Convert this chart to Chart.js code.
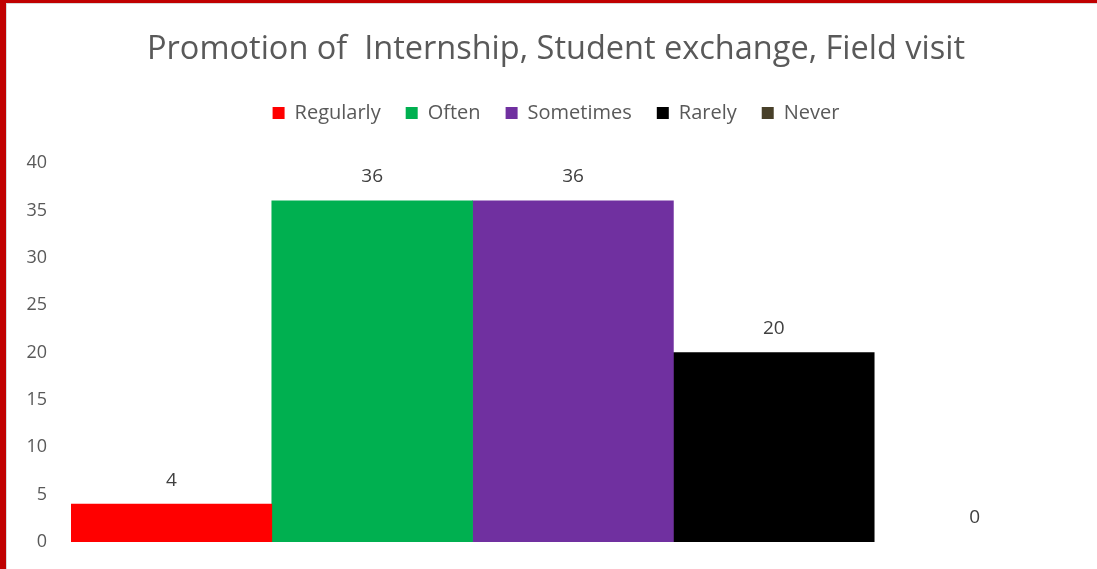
<!DOCTYPE html>
<html>
<head>
<meta charset="utf-8">
<script src="https://cdn.jsdelivr.net/npm/chart.js@4.4.0/dist/chart.umd.min.js"></script>
<style>
  html, body { margin: 0; padding: 0; background: #fff; }
  #frame {
    width: 1091px; height: 566px;
    border-left: 6px solid #c00000;
    border-top: 3px solid #c00000;
    overflow: hidden;
  }
  #inner {
    width: 1090px; height: 565px;
    border-left: 1px solid #d9d9d9;
    border-top: 1px solid #d9d9d9;
  }
</style>
</head>
<body>
<div id="frame"><div id="inner"><canvas id="promoChart" width="1090" height="565"></canvas></div></div>
<script>
// chart data
const seriesNames = ["Regularly", "Often", "Sometimes", "Rarely", "Never"];
const seriesValues = [4, 36, 36, 20, 0];
const seriesColors = ["#ff0000", "#00b050", "#7030a0", "#000000", "#484029"];
const yTicks = [0, 5, 10, 15, 20, 25, 30, 35, 40];

const fontFamily = "'Open Sans', 'Noto Sans', sans-serif";

// value labels above each bar
const barLabels = {
    id: "barLabels",
    afterDatasetsDraw(chart) {
        const ctx = chart.ctx;
        ctx.save();
        ctx.font = "19px " + fontFamily;
        ctx.fillStyle = "#404040";
        ctx.textAlign = "center";
        ctx.textBaseline = "middle";
        chart.data.datasets.forEach((ds, i) => {
            const bar = chart.getDatasetMeta(i).data[0];
            ctx.fillText(String(ds.data[0]), bar.x, bar.y - 24);
        });
        ctx.restore();
    },
};

// extra room under the legend
const legendGap = {
    id: "legendGap",
    beforeInit(chart) {
        const origFit = chart.legend.fit;
        chart.legend.fit = function () {
            origFit.call(this);
            this.height += 30;
        };
    },
};

document.addEventListener("DOMContentLoaded", () => {
    const ctx = document.getElementById("promoChart").getContext("2d");

    new Chart(ctx, {
        type: "bar",
        data: {
            labels: [""],
            datasets: seriesNames.map((name, i) => ({
                label: name,
                data: [seriesValues[i]],
                backgroundColor: seriesValues[i] === 0 ? "rgba(0,0,0,0)" : seriesColors[i],
                borderWidth: 0,
                barPercentage: 1,
                categoryPercentage: 1,
            })),
        },
        options: {
            responsive: false,
            animation: false,
            layout: { padding: { left: 8, right: 0, bottom: 19, top: 26 } },
            plugins: {
                title: {
                    display: true,
                    text: "Promotion of  Internship, Student exchange, Field visit",
                    color: "#595959",
                    font: { family: fontFamily, size: 32.5, weight: "normal" },
                    padding: { top: 0, bottom: 9 },
                },
                legend: {
                    labels: {
                        color: "#595959",
                        font: { family: fontFamily, size: 20 },
                        boxWidth: 12,
                        boxHeight: 12,
                        padding: 25,
                        generateLabels(chart) {
                            return chart.data.datasets.map((ds, i) => ({
                                text: ds.label,
                                fillStyle: seriesColors[i],
                                strokeStyle: seriesColors[i],
                                lineWidth: 0,
                                fontColor: "#595959",
                                hidden: false,
                                datasetIndex: i,
                            }));
                        },
                    },
                },
                tooltip: { enabled: false },
            },
            scales: {
                x: {
                    ticks: { display: false },
                    grid: { display: false },
                    border: { display: false },
                },
                y: {
                    min: 0,
                    max: 40,
                    afterBuildTicks(axis) {
                        axis.ticks = yTicks.map(v => ({ value: v }));
                    },
                    afterFit(axis) {
                        axis.width = 56;
                    },
                    ticks: {
                        color: "#595959",
                        font: { family: fontFamily, size: 18 },
                        padding: 16,
                    },
                    grid: { display: false },
                    border: { display: false },
                },
                // empty right-hand spacer so the title centres like the original
                ySpacer: {
                    position: "right",
                    min: 0,
                    max: 40,
                    afterFit(axis) {
                        axis.width = 22;
                    },
                    ticks: { display: false },
                    grid: { display: false },
                    border: { display: false },
                },
            },
        },
        plugins: [barLabels, legendGap],
    });
});
</script>
</body>
</html>
